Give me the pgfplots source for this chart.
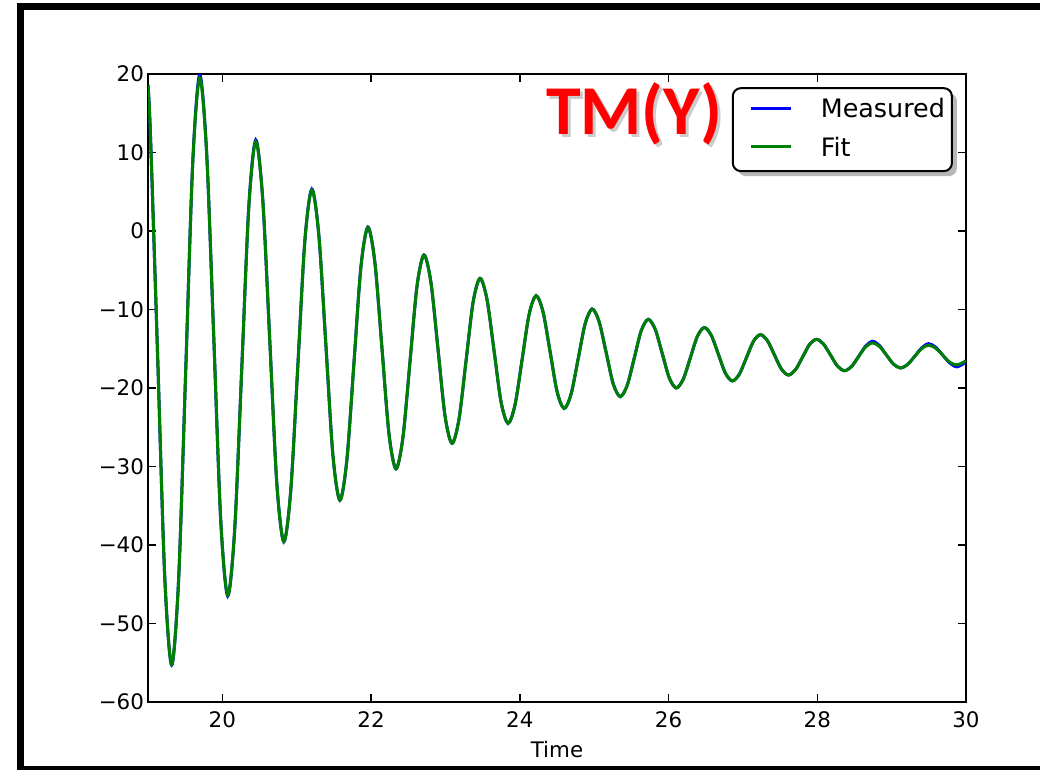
\documentclass[border=0pt]{standalone}
\usepackage{pgfplots}
\pgfplotsset{compat=1.18}
\usepackage{pgfplotstable}
\usepackage{fontspec}
\setmainfont{DejaVu Sans}
\newfontfamily\carlito{Carlito}
\usetikzlibrary{shadows}
\definecolor{mplblue}{rgb}{0,0,1}
\definecolor{mplgreen}{rgb}{0,0.5,0}
\makeatletter
\tikzset{no preactions/.code={\let\tikz@preactions\pgfutil@empty}}
\makeatother

\pgfplotstableread{
t meas fit
19.000 18.60 18.60
19.035 11.70 11.70
19.130 -16.05 -16.05
19.224 -43.80 -43.80
19.318 -55.30 -55.20
19.412 -44.33 -44.33
19.507 -17.85 -17.85
19.601 8.63 8.50
19.695 19.90 19.50
19.789 9.92 9.80
19.884 -13.45 -13.45
19.978 -36.82 -36.82
20.072 -46.50 -46.40
20.166 -38.01 -38.01
20.261 -17.50 -17.50
20.355 3.01 3.01
20.449 11.60 11.40
20.543 4.02 4.02
20.638 -14.05 -14.05
20.732 -32.12 -32.12
20.826 -39.60 -39.55
20.920 -33.02 -33.02
21.015 -17.15 -17.15
21.109 -1.28 -1.28
21.203 5.35 5.25
21.297 -0.50 -0.50
21.392 -14.50 -14.50
21.486 -28.50 -28.50
21.580 -34.30 -34.30
21.674 -29.20 -29.20
21.769 -16.90 -16.90
21.863 -4.60 -4.60
21.957 0.50 0.45
22.051 -4.01 -4.01
22.146 -14.90 -14.90
22.240 -25.79 -25.79
22.334 -30.30 -30.30
22.428 -26.31 -26.31
22.523 -16.68 -16.68
22.617 -7.05 -7.05
22.711 -3.06 -3.06
22.805 -6.57 -6.57
22.900 -15.06 -15.06
22.994 -23.54 -23.54
23.088 -27.05 -27.05
23.182 -23.97 -23.97
23.277 -16.54 -16.54
23.371 -9.11 -9.11
23.465 -6.03 -6.03
23.559 -8.74 -8.74
23.654 -15.27 -15.27
23.748 -21.80 -21.80
23.842 -24.50 -24.50
23.936 -22.12 -22.12
24.031 -16.37 -16.37
24.125 -10.62 -10.62
24.219 -8.24 -8.24
24.313 -10.34 -10.34
24.408 -15.42 -15.42
24.502 -20.50 -20.50
24.596 -22.60 -22.60
24.690 -20.75 -20.75
24.785 -16.27 -16.27
24.879 -11.79 -11.79
24.973 -9.94 -9.94
25.067 -11.57 -11.57
25.162 -15.52 -15.52
25.256 -19.47 -19.47
25.350 -21.10 -21.10
25.444 -19.66 -19.66
25.539 -16.18 -16.18
25.633 -12.69 -12.69
25.727 -11.25 -11.25
25.821 -12.53 -12.53
25.916 -15.63 -15.63
26.010 -18.72 -18.72
26.104 -20.00 -20.00
26.198 -18.87 -18.87
26.293 -16.15 -16.15
26.387 -13.43 -13.43
26.481 -12.30 -12.30
26.575 -13.30 -13.30
26.670 -15.70 -15.70
26.764 -18.10 -18.10
26.858 -19.10 -19.10
26.952 -18.24 -18.24
27.047 -16.15 -16.15
27.141 -14.06 -14.06
27.235 -13.20 -13.20
27.329 -13.96 -13.96
27.424 -15.78 -15.78
27.518 -17.60 -17.60
27.612 -18.35 -18.35
27.706 -17.69 -17.69
27.801 -16.08 -16.08
27.895 -14.47 -14.47
27.989 -13.80 -13.80
28.083 -14.39 -14.39
28.178 -15.80 -15.80
28.272 -17.21 -17.21
28.366 -17.80 -17.80
28.460 -17.27 -17.27
28.555 -16.00 -16.00
28.649 -14.68 -14.78
28.743 -14.05 -14.25
28.837 -14.60 -14.72
28.932 -15.83 -15.83
29.026 -16.97 -16.97
29.120 -17.45 -17.45
29.214 -17.01 -17.01
29.309 -15.98 -15.98
29.403 -14.90 -14.98
29.497 -14.35 -14.55
29.591 -14.80 -14.92
29.686 -15.80 -15.80
29.780 -16.80 -16.70
29.874 -17.30 -17.05
29.968 -16.90 -16.72
30.000 -16.70 -16.50
}\datatable

\begin{document}
\begin{tikzpicture}[x=0.5pt,y=0.5pt]
\useasboundingbox (0,0) rectangle (1040,770);
\fill[white] (0,0) rectangle (1040,770);
\draw[line width=3.5pt] (20.5,0.5) rectangle (1060,763.5);
\begin{axis}[
  at={(74pt,34pt)}, anchor=south west,
  scale only axis, width=409pt, height=314pt,
  xmin=19, xmax=30, ymin=-60, ymax=20,
  xtick={20,22,...,30}, xticklabels={20,22,24,26,28,30},
  ytick={-60,-50,...,20},
  yticklabels={−60,−50,−40,−30,−20,−10,0,10,20},
  tick align=inside, xtick pos=both, ytick pos=both,
  major tick length=4pt,
  every tick/.style={black, line width=0.7pt},
  axis line style={line width=1.2pt},
  ticklabel style={font=\fontsize{10.7}{12}\selectfont},
  xticklabel style={yshift=-1.3pt},
  yticklabel style={xshift=1.5pt},
  xlabel={Time},
  xlabel style={font=\fontsize{10.7}{12}\selectfont, at={(axis description cs:0.5,-0.075)}, anchor=center},
  legend cell align=left,
  legend image code/.code={\path[no preactions] (0pt,1pt); \draw[no preactions,#1] (5pt,1pt) -- (25pt,1pt);},
  legend style={at={(0.984,0.979)}, anchor=north east, draw=black, line width=1pt,
    rounded corners=4pt, fill=white,
    drop shadow={shadow xshift=2.5pt, shadow yshift=-2.5pt, fill=gray!70, opacity=0.8},
    inner xsep=3.5pt, inner ysep=5.5pt, column sep=14pt, row sep=7.85pt,
    font=\fontsize{12.7}{15}\selectfont,
    nodes={inner sep=0pt, text height=9.3pt, text depth=2pt}},
]
\addplot[mplblue, line width=1.5pt, smooth] table[x=t, y=meas]{\datatable};
\addlegendentry{Measured}
\addplot[mplgreen, line width=1.5pt, smooth] table[x=t, y=fit]{\datatable};
\addlegendentry{Fit}
\end{axis}
\node[anchor=base west, text=gray!40, font=\carlito\bfseries\fontsize{35}{40}\selectfont] at (542,632) {TM(Y)};
\node[anchor=base west, text=red, font=\carlito\bfseries\fontsize{35}{40}\selectfont] at (539,635) {TM(Y)};
\end{tikzpicture}
\end{document}
